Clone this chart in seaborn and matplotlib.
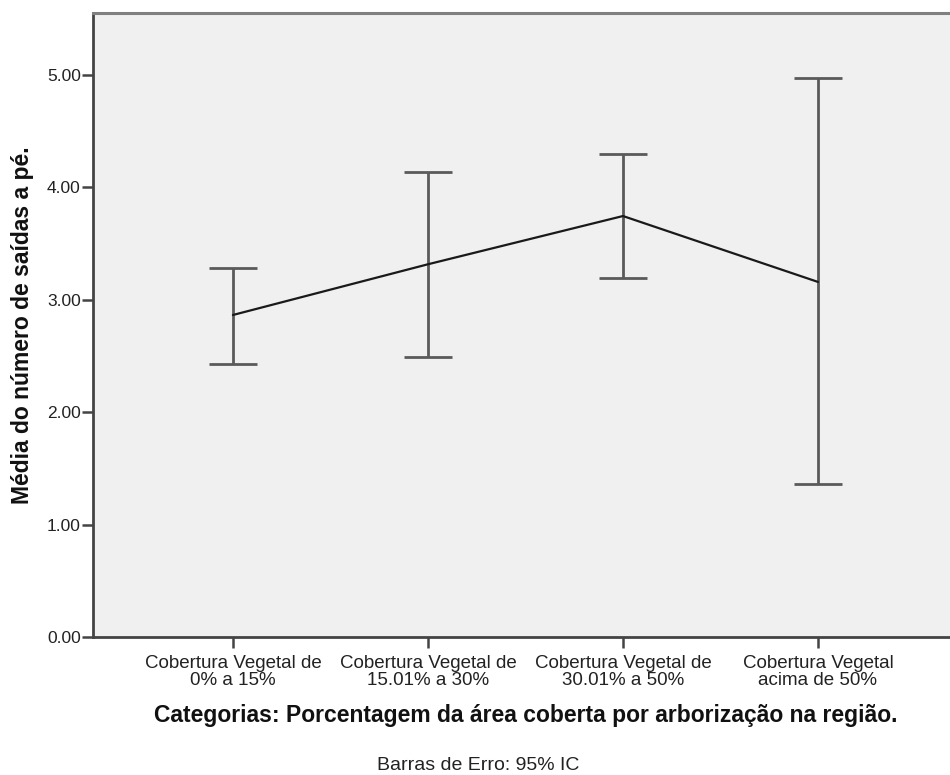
import numpy as np
import pandas as pd
import seaborn as sns
import matplotlib
matplotlib.use("Agg")
import matplotlib.pyplot as plt

categorias = ["Cobertura Vegetal de\n0% a 15%",
              "Cobertura Vegetal de\n15.01% a 30%",
              "Cobertura Vegetal de\n30.01% a 50%",
              "Cobertura Vegetal\nacima de 50%"]
media = [2.866, 3.317, 3.746, 3.160]
ic_inf = [2.430, 2.490, 3.198, 1.360]
ic_sup = [3.287, 4.140, 4.298, 4.970]
yticks = [0, 1, 2, 3, 4, 5]

df = pd.DataFrame({"pos": np.arange(len(categorias)), "Média": media,
                   "inf": ic_inf, "sup": ic_sup})

sns.set_theme(style="white")
plt.rcParams['font.family'] = ['Liberation Sans', 'DejaVu Sans']

fig = plt.figure(figsize=(9.5, 7.75), dpi=100)
ax = fig.add_axes([93.3 / 950, 0.1777, 1 - 93.3 / 950, 0.9836 - 0.1777])
ax.set_facecolor("#f0f0f0")

# barras de erro (IC 95%)
ax.errorbar(df["pos"], df["Média"],
            yerr=[df["Média"] - df["inf"], df["sup"] - df["Média"]],
            fmt="none", ecolor="#5a5a5a", elinewidth=2, capsize=17.6,
            capthick=2, zorder=2)
sns.lineplot(data=df, x="pos", y="Média", color="#1a1a1a", linewidth=1.6,
             ax=ax, zorder=3, sort=False)

ax.set_xlim(-0.716, 3.677)
ax.set_ylim(0, 5.554)
ax.set_xticks(df["pos"])
ax.set_xticklabels(categorias, fontsize=13.5, color="#222222", linespacing=0.95)
ax.set_yticks(yticks)
ax.set_yticklabels([f"{v:.2f}" for v in yticks], fontsize=12.5, color="#222222")
ax.tick_params(axis="both", direction="out", length=8, width=1.8,
               color="#444444", left=True, bottom=True)
ax.tick_params(axis="x", pad=5)
ax.tick_params(axis="y", pad=1)

for lado in ["left", "bottom"]:
    ax.spines[lado].set_color("#444444")
    ax.spines[lado].set_linewidth(2)
ax.spines["top"].set_color("#808080")
ax.spines["top"].set_linewidth(2.2)
ax.spines["right"].set_visible(False)

ax.set_xlabel("Categorias: Porcentagem da área coberta por arborização na região.",
              fontsize=16.5, fontweight="bold", color="#111111")
ax.xaxis.set_label_coords((526 - 93.3) / (950 - 93.3), -(716 - 637.3) / (637.3 - 12.7))
ax.xaxis.label.set_va("center")
ax.set_ylabel("Média do número de saídas a pé.", fontsize=16.5,
              fontweight="bold", color="#111111")
ax.yaxis.set_label_coords(-(93.3 - 23) / (950 - 93.3), (637.3 - 325) / (637.3 - 12.7))
ax.yaxis.label.set_va("center")

fig.text(478 / 950, 1 - 766 / 775, "Barras de Erro: 95% IC", ha="center",
         va="center", fontsize=14, color="#222222")

fig.savefig("out.png", dpi=100)
